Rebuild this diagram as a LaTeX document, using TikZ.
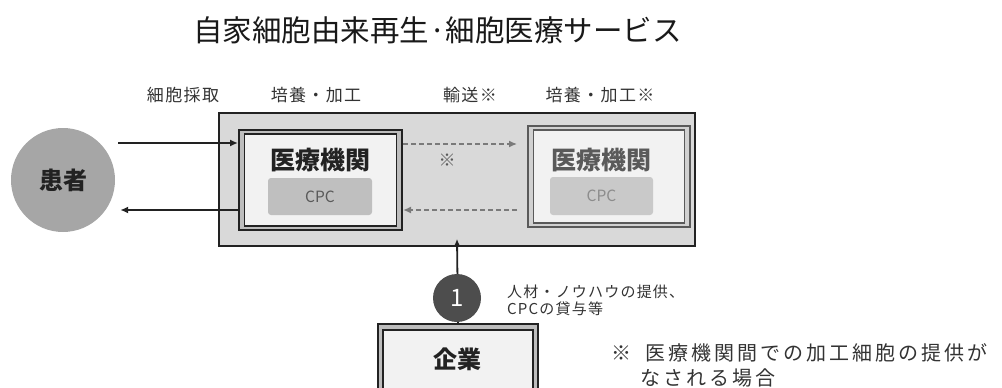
\documentclass[tikz,border=0pt]{standalone}
\usepackage{fontspec}
\newfontfamily\jp{Noto Sans CJK JP}
\usetikzlibrary{arrows.meta}
\definecolor{boxfill}{HTML}{D9D9D9}
\definecolor{framefill}{HTML}{BDBDBD}
\definecolor{paper}{HTML}{F2F2F2}
\definecolor{cpcfill}{HTML}{BFBFBF}
\definecolor{dark}{HTML}{222222}
\definecolor{mid}{HTML}{5A5A5A}
\definecolor{dashc}{HTML}{7A7A7A}
\definecolor{patientc}{HTML}{A6A6A6}
\definecolor{numc}{HTML}{4D4D4D}
\tikzset{
  lab/.style={font=\jp\fontsize{17}{17}\selectfont\addfontfeature{LetterSpace=8}, text=black!80, inner sep=0pt},
  bigbox/.style={draw=dark, line width=1.7pt, fill=boxfill, inner sep=0pt},
  outerL/.style={draw=dark, line width=2pt, fill=framefill, inner sep=0pt},
  innerL/.style={draw=dark, line width=1.4pt, fill=paper, inner sep=0pt},
  outerR/.style={draw=mid, line width=1.8pt, fill=framefill!70!white, inner sep=0pt},
  innerR/.style={draw=mid, line width=1.2pt, fill=paper, inner sep=0pt},
  cpcL/.style={fill=cpcfill, rounded corners=3pt, text=mid, font=\jp\fontsize{15.5}{15.5}\selectfont, inner sep=0pt},
  cpcR/.style={fill=cpcfill!85!white, rounded corners=3pt, text=black!45, font=\jp\fontsize{15.5}{15.5}\selectfont, inner sep=0pt},
  nameL/.style={font=\jp\bfseries\fontsize{25}{25}\selectfont, text=dark, inner sep=0pt},
  nameR/.style={font=\jp\bfseries\fontsize{25}{25}\selectfont, text=mid, inner sep=0pt},
  arr/.style={draw=dark, line width=1.8pt, -{Latex[length=8pt,width=7pt]}},
  darr/.style={draw=dashc, line width=1.8pt, dash pattern=on 5pt off 3pt, -{Latex[length=8pt,width=7pt]}},
  small/.style={font=\jp\fontsize{15}{15}\selectfont\addfontfeature{LetterSpace=8}, text=black!80, inner sep=0pt},
  notetext/.style={font=\jp\fontsize{20}{20}\selectfont\addfontfeature{LetterSpace=15}, text=black!80, inner sep=0pt},
}
\begin{document}
\begin{tikzpicture}[x=1pt,y=-1pt]
\useasboundingbox (0,0) rectangle (1002,388);
\clip (0,0) rectangle (1002,388);

% title
\node[font=\jp\fontsize{29.5}{30}\selectfont, text=black!90, inner sep=0pt] (title) at (437.5,30) {自家細胞由来再生·細胞医療サービス};

% stage labels
\node[lab] (lab1) at (183,95) {細胞採取};
\node[lab] (lab2) at (316,95) {培養・加工};
\node[lab] (lab3) at (470,95) {輸送※};
\node[lab] (lab4) at (600,95) {培養・加工※};

% patient
\node[circle, fill=patientc, minimum size=104pt, inner sep=0pt, font=\jp\bfseries\fontsize{24}{24}\selectfont, text=dark] (patient) at (63,180) {患者};

% big box
\node[bigbox, minimum width=476pt, minimum height=133pt] (frame) at (457,179.5) {};

% left institution
\node[outerL, minimum width=163pt, minimum height=100pt] (inL) at (320.5,180) {};
\node[innerL, minimum width=152pt, minimum height=92pt] (inLi) at (inL) {};
\node[nameL] (nameL) at (320,160) {医療機関};
\node[cpcL, minimum width=104pt, minimum height=37pt] (cpcL) at (320,196.5) {CPC};

% right institution
\node[outerR, minimum width=162pt, minimum height=101pt] (inR) at (609,176.5) {};
\node[innerR, minimum width=151pt, minimum height=93pt] (inRi) at (inR) {};
\node[nameR] (nameR) at (601,160) {医療機関};
\node[cpcR, minimum width=103pt, minimum height=38pt] (cpcR) at (601.5,196) {CPC};

% star between
\node[font=\jp\fontsize{17}{17}\selectfont, text=mid, inner sep=0pt] (star1) at (447,160) {※};

% arrows patient <-> left institution
\draw[arr] ([shift={(3pt,37pt)}]patient.east) -- ([yshift=37pt]inL.west);
\draw[arr] ([yshift=-30pt]inL.west) -- ([shift={(5pt,-30pt)}]patient.east);

% dashed transport arrows
\draw[darr] ([yshift=36pt]inL.east) -- ([shift={(-10pt,32.5pt)}]inR.west);
\draw[darr] ([shift={(-10pt,-33.5pt)}]inR.west) -- ([yshift=-30pt]inL.east);

% company
\node[outerL, minimum width=160pt, minimum height=72pt] (company) at (458,360) {};
\node[innerL, minimum width=150pt, minimum height=64pt] (companyi) at (458,362) {};
\node[font=\jp\bfseries\fontsize{24}{24}\selectfont, text=dark, inner sep=0pt] (companyt) at (457,359) {企業};

% support arrow
\draw[arr] (company.north) -- ([yshift=8pt]frame.south);
\node[circle, fill=numc, minimum size=48pt, inner sep=0pt, text=white, font=\jp\fontsize{24}{24}\selectfont] (num) at (457,298) {1};

% support text
\node[small, anchor=west] (sup1) at (507,292) {人材・ノウハウの提供、};
\node[small, anchor=west] (sup2) at (507,309) {CPCの貸与等};

% note
\node[notetext, anchor=west] (star2) at (611,353) {※};
\node[notetext, anchor=west] (note1) at (645,353) {医療機関間での加工細胞の提供が};
\node[notetext, anchor=west] (note2) at (640,378) {なされる場合};
\end{tikzpicture}
\end{document}
